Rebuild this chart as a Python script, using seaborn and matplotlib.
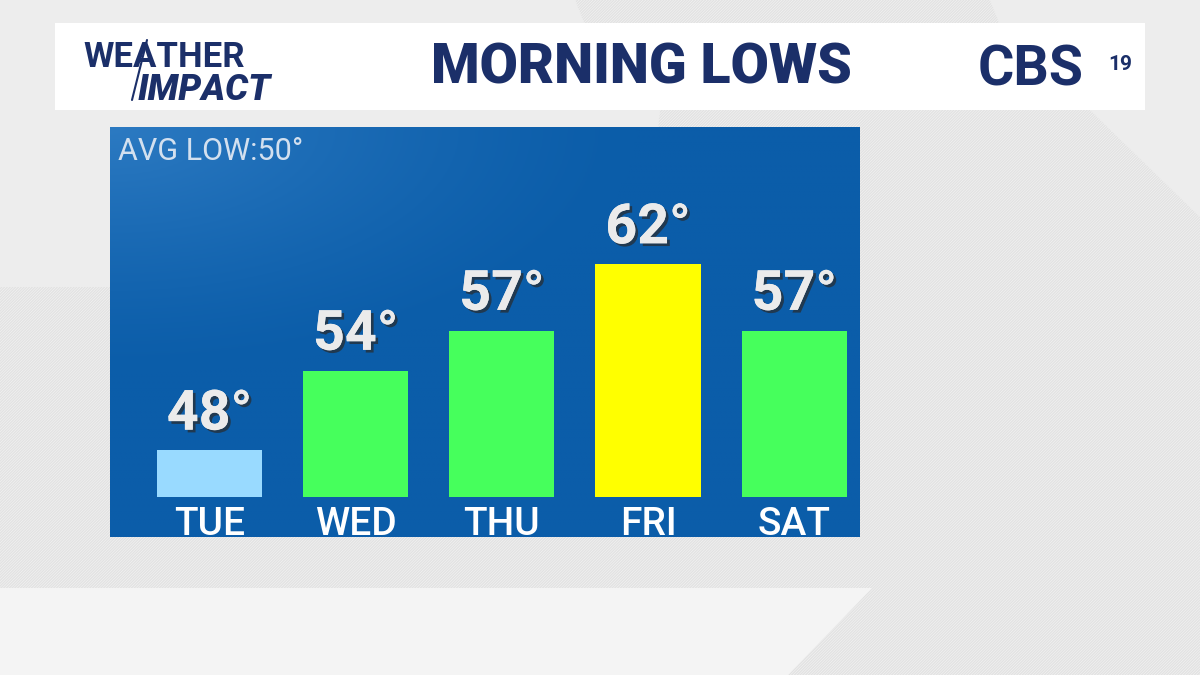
##
# Morning lows bar chart (TV weather graphic style)
##

import numpy as np
import matplotlib.pyplot as plt
import matplotlib.patheffects as pe
from matplotlib.patches import Polygon, Rectangle
import seaborn as sns

# Chart data
DAYS = ["TUE", "WED", "THU", "FRI", "SAT"]
LOWS = [48, 54, 57, 62, 57]
BAR_COLORS = ["#99daff", "#46ff5c", "#46ff5c", "#ffff00", "#46ff5c"]
AVG_LOW = 50
TITLE = "MORNING LOWS"

# Layout constants
BASE = 44.5           # value where the bars start
Y_LIMITS = (41.5, 72.3)
X_LIMITS = (-0.68, 4.45)
NAVY = "#1b2f69"
PANEL = np.array([0x0b, 0x5d, 0xa9]) / 255
PANEL_LIGHT = np.array([0x2c, 0x7a, 0xc2]) / 255

sns.set_style("white")
plt.rcParams["font.family"] = ["Roboto", "DejaVu Sans"]
plt.rcParams["hatch.linewidth"] = 1.0

W, H = 1200, 675


def px(x, y):
    """Pixel (from top-left) to figure coords"""
    return (x / W, 1 - y / H)


fig = plt.figure(figsize=(12, 6.75), dpi=100)
fig.patch.set_facecolor("#ededed")

# Background: striped areas and a lighter bottom band
stripes = [
    [(0, 287), (640, 287), (660, 110), (1090, 110), (1200, 217), (1200, 675),
     (788, 675), (872, 588), (0, 588)],
    [(575, 0), (990, 0), (1000, 25), (585, 25)],
]
for pts in stripes:
    fig.patches.append(Polygon([px(*p) for p in pts], closed=True, transform=fig.transFigure,
                               facecolor="#f5f5f5", edgecolor="#e2e2e2", hatch="/" * 12,
                               linewidth=0, zorder=0))
fig.patches.append(Polygon([px(*p) for p in [(0, 588), (872, 588), (788, 675), (0, 675)]],
                           closed=True, transform=fig.transFigure,
                           facecolor="#f4f4f4", linewidth=0, zorder=0))

# Header band
x0, y0 = px(55, 110)
fig.patches.append(Rectangle((x0, y0), 1090 / W, 87 / H, transform=fig.transFigure,
                             facecolor="white", linewidth=0, zorder=1))
fig.text(*px(641, 68), TITLE, ha="center", va="center", color=NAVY,
         fontsize=40, fontweight="black", zorder=2)

# Logos as text
fig.text(*px(83, 67), "WEATHER", ha="left", va="baseline", color=NAVY,
         fontsize=25, fontweight="bold", zorder=2)
fig.text(*px(138, 100), "IMPACT", ha="left", va="baseline", color=NAVY,
         fontsize=26, fontweight="black", style="italic", zorder=2)
fig.lines.append(plt.Line2D([132 / W, 147 / W], [1 - 100 / H, 1 - 40 / H],
                            transform=fig.transFigure, color=NAVY, linewidth=1.5, zorder=2))
fig.text(*px(978, 86), "CBS", ha="left", va="baseline", color=NAVY,
         fontsize=40, fontweight="bold", zorder=2)
fig.text(*px(1108, 70), "19", ha="left", va="baseline", color=NAVY,
         fontsize=15, fontweight="bold", zorder=2)

# Chart panel
ax = fig.add_axes([110 / W, 1 - 537 / H, 750 / W, 410 / H])
ax.set_zorder(5)

sns.barplot(x=DAYS, y=LOWS, hue=DAYS, palette=BAR_COLORS, width=0.72,
            legend=False, saturation=1, ax=ax, zorder=3)

# Bars start at BASE, not zero
for bar in ax.patches:
    top = bar.get_height()
    bar.set_y(BASE)
    bar.set_height(top - BASE)
    bar.set_edgecolor("none")

# Gradient panel background
gy, gx = np.mgrid[0:1:200j, 0:1:300j]
dist = np.sqrt((gx / 0.7) ** 2 + (gy / 0.6) ** 2)
t = np.clip(1 - dist, 0, 1) ** 1.3
grad = PANEL[None, None, :] * (1 - t[..., None]) + PANEL_LIGHT[None, None, :] * t[..., None]
ax.imshow(grad, extent=[X_LIMITS[0], X_LIMITS[1], Y_LIMITS[0], Y_LIMITS[1]],
          origin="upper", aspect="auto", zorder=0)

ax.set_xlim(*X_LIMITS)
ax.set_ylim(*Y_LIMITS)
ax.set_xticks([])
ax.set_yticks([])
ax.set_xlabel("")
ax.set_ylabel("")
for spine in ax.spines.values():
    spine.set_visible(False)

shadow = [pe.withSimplePatchShadow(offset=(2, -2), shadow_rgbFace="#2a2a2a", alpha=0.7),
          pe.Normal()]

for i, (day, low) in enumerate(zip(DAYS, LOWS)):
    ax.annotate(f"{low}°", xy=(i, low), xytext=(0, 15), textcoords="offset points",
                ha="center", va="baseline", color="#ebebeb", fontsize=40,
                fontweight="bold", path_effects=shadow, zorder=5)
    ax.text(i, 41.65, day, ha="center", va="baseline", color="white",
            fontsize=28, fontweight="medium", zorder=5)

ax.text(0.011, 0.975, f"AVG LOW:{AVG_LOW}°", transform=ax.transAxes, ha="left", va="top",
        color="#d3e0ef", fontsize=22, zorder=5)

plt.savefig("out.png", dpi=100, facecolor=fig.get_facecolor())
